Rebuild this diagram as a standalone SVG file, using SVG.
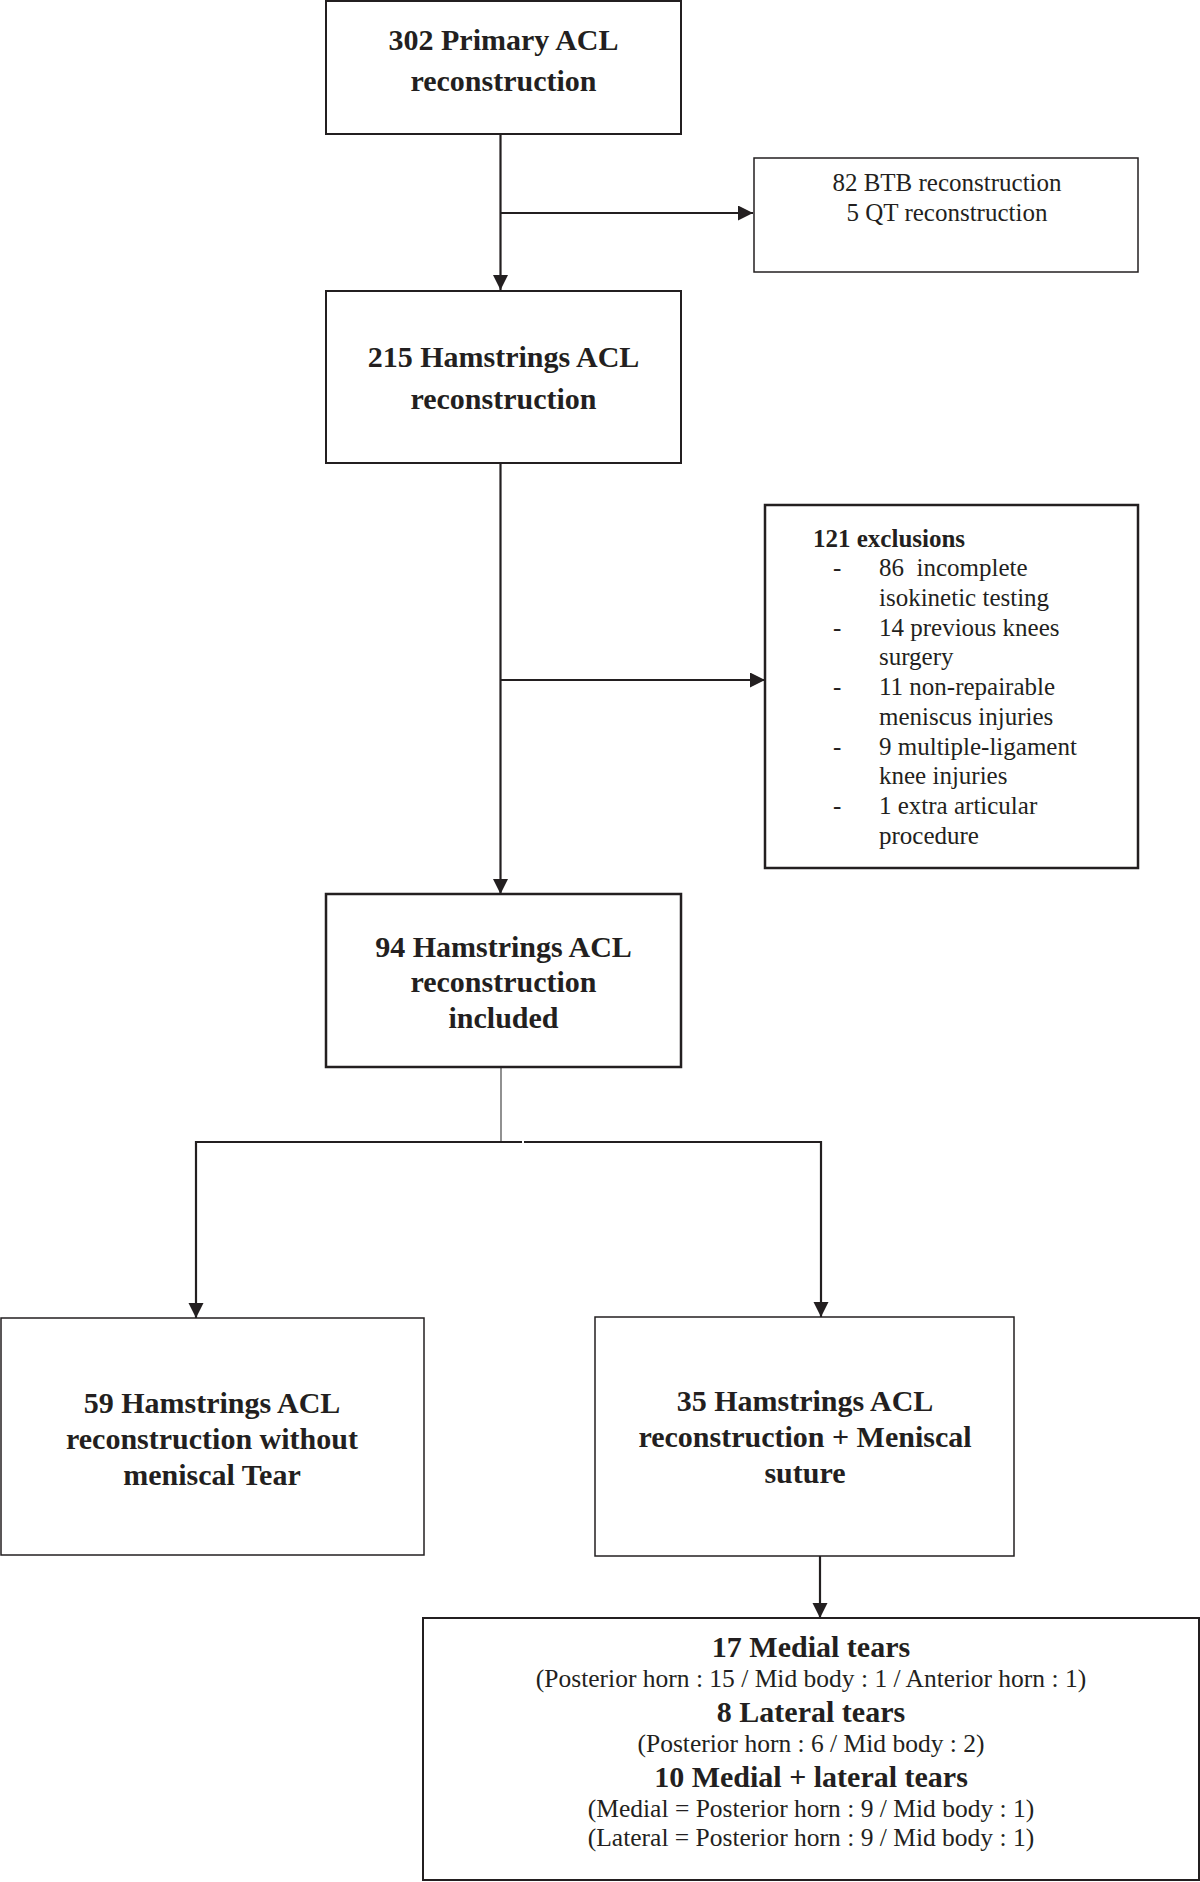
<svg xmlns="http://www.w3.org/2000/svg" width="1200" height="1882" viewBox="0 0 1200 1882">
<style>
.box{fill:#fff;stroke:#231f20}
.t{font-family:"Liberation Serif","Times New Roman",serif;fill:#231f20}
.b{font-weight:bold;font-size:30px;text-anchor:middle}
.r{font-size:25px}
.c{text-anchor:middle}
.fb{font-weight:bold;font-size:30px;text-anchor:middle}
.fr{font-size:25.5px;text-anchor:middle}
.ln{stroke:#231f20;stroke-width:2.2;fill:none}
</style>
<defs>
<marker id="ah" markerUnits="userSpaceOnUse" markerWidth="16" markerHeight="16" viewBox="0 0 16 16" refX="15" refY="7.5" orient="auto">
<path d="M0,0 L15,7.5 L0,15 Z" fill="#231f20"/>
</marker>
</defs>
<rect width="1200" height="1882" fill="#fff"/>
<g id="connectors">
<line class="ln" x1="500.5" y1="134" x2="500.5" y2="290" marker-end="url(#ah)"/>
<line class="ln" x1="500.5" y1="213" x2="753" y2="213" marker-end="url(#ah)"/>
<line class="ln" x1="500.5" y1="463" x2="500.5" y2="894" marker-end="url(#ah)"/>
<line class="ln" x1="500.5" y1="680" x2="765" y2="680" marker-end="url(#ah)"/>
<line x1="501" y1="1067" x2="501" y2="1142" stroke="#555" stroke-width="1.3"/>
<line class="ln" x1="195" y1="1142" x2="522" y2="1142"/>
<line class="ln" x1="524" y1="1142" x2="821" y2="1142"/>
<line class="ln" x1="196" y1="1141" x2="196" y2="1318" marker-end="url(#ah)"/>
<line class="ln" x1="821" y1="1141" x2="821" y2="1317" marker-end="url(#ah)"/>
<line class="ln" x1="820" y1="1556" x2="820" y2="1618" marker-end="url(#ah)"/>
</g>
<g id="n1">
<rect class="box" x="326" y="1" width="355" height="133" stroke-width="2"/>
<text class="t b" x="503.5" y="50">302 Primary ACL</text>
<text class="t b" x="503.5" y="91">reconstruction</text>
</g>
<g id="n_btb">
<rect class="box" x="754" y="158" width="384" height="114" stroke-width="1.5"/>
<text class="t r c" x="947" y="191">82 BTB reconstruction</text>
<text class="t r c" x="947" y="221">5 QT reconstruction</text>
</g>
<g id="n2">
<rect class="box" x="326" y="291" width="355" height="172" stroke-width="2"/>
<text class="t b" x="503.5" y="367">215 Hamstrings ACL</text>
<text class="t b" x="503.5" y="409">reconstruction</text>
</g>
<g id="n_excl">
<rect class="box" x="765" y="505" width="373" height="363" stroke-width="2.5"/>
<text class="t r" x="813" y="547" font-weight="bold">121 exclusions</text>
<g class="t r">
<text x="833" y="576">-</text>
<text x="879" y="576" xml:space="preserve">86  incomplete</text>
<text x="879" y="606">isokinetic testing</text>
<text x="833" y="636">-</text>
<text x="879" y="636">14 previous knees</text>
<text x="879" y="665">surgery</text>
<text x="833" y="695">-</text>
<text x="879" y="695">11 non-repairable</text>
<text x="879" y="725">meniscus injuries</text>
<text x="833" y="755">-</text>
<text x="879" y="755">9 multiple-ligament</text>
<text x="879" y="784">knee injuries</text>
<text x="833" y="814">-</text>
<text x="879" y="814">1 extra articular</text>
<text x="879" y="844">procedure</text>
</g>
</g>
<g id="n3">
<rect class="box" x="326" y="894" width="355" height="173" stroke-width="2.5"/>
<text class="t b" x="503.5" y="957">94 Hamstrings ACL</text>
<text class="t b" x="503.5" y="992">reconstruction</text>
<text class="t b" x="503.5" y="1028">included</text>
</g>
<g id="n_left">
<rect class="box" x="1" y="1318" width="423" height="237" stroke-width="1.5"/>
<text class="t b" x="212" y="1413">59 Hamstrings ACL</text>
<text class="t b" x="212" y="1449">reconstruction without</text>
<text class="t b" x="212" y="1485">meniscal Tear</text>
</g>
<g id="n_right">
<rect class="box" x="595" y="1317" width="419" height="239" stroke-width="1.5"/>
<text class="t b" x="805" y="1411">35 Hamstrings ACL</text>
<text class="t b" x="805" y="1447">reconstruction + Meniscal</text>
<text class="t b" x="805" y="1483">suture</text>
</g>
<g id="n_final">
<rect class="box" x="423" y="1618" width="776" height="262" stroke-width="2"/>
<text class="t fb" x="811" y="1657">17 Medial tears</text>
<text class="t fr" x="811" y="1687">(Posterior horn : 15 / Mid body : 1 / Anterior horn : 1)</text>
<text class="t fb" x="811" y="1722">8 Lateral tears</text>
<text class="t fr" x="811" y="1752">(Posterior horn : 6 / Mid body : 2)</text>
<text class="t fb" x="811" y="1787">10 Medial + lateral tears</text>
<text class="t fr" x="811" y="1817">(Medial = Posterior horn : 9 / Mid body : 1)</text>
<text class="t fr" x="811" y="1846">(Lateral = Posterior horn : 9 / Mid body : 1)</text>
</g>
</svg>
